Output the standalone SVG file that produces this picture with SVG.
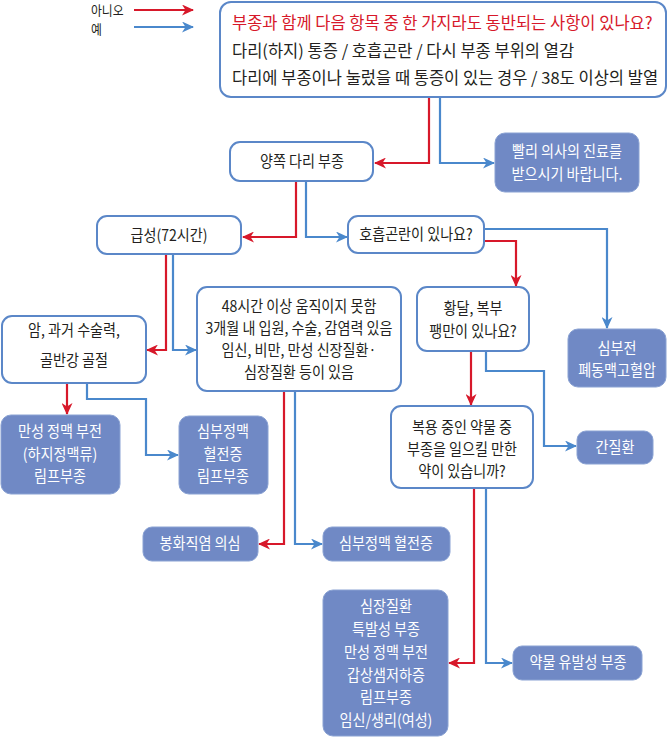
<svg xmlns="http://www.w3.org/2000/svg" width="670" height="738" viewBox="0 0 670 738">
<style>
text{font-family:"Noto Sans CJK KR","Noto Sans",sans-serif;font-size:15.5px;fill:#231f20;text-anchor:middle;transform-box:fill-box;transform-origin:50% 50%;transform:scaleX(0.91)}
text.l{text-anchor:start;font-size:16.5px;transform:none}
text.w{fill:#ffffff}
text.r{fill:#d7182a}
text.lg{font-size:13px;text-anchor:start;transform-origin:0 50%}
.q{fill:#ffffff;stroke:#5b87c8;stroke-width:2}
.a{fill:#7089c5;stroke:#8aa2d3;stroke-width:1}
.cr{fill:none;stroke:#d7182a;stroke-width:2.2;marker-end:url(#mr)}
.cb{fill:none;stroke:#4a88cc;stroke-width:2.2;marker-end:url(#mb)}
</style>
<defs>
<marker id="mr" viewBox="0 0 12 11" refX="11" refY="5.5" markerWidth="12" markerHeight="11" markerUnits="userSpaceOnUse" orient="auto"><path d="M0,0 L12,5.5 L0,11 L3.5,5.5 Z" fill="#d7182a"/></marker>
<marker id="mb" viewBox="0 0 12 11" refX="11" refY="5.5" markerWidth="12" markerHeight="11" markerUnits="userSpaceOnUse" orient="auto"><path d="M0,0 L12,5.5 L0,11 L3.5,5.5 Z" fill="#4a88cc"/></marker>
</defs>

<g id="legend">
<text class="lg" x="91" y="15">아니오</text>
<text class="lg" x="91" y="34">예</text>
<path class="cr" d="M134,10 H193"/>
<path class="cb" d="M134,27 H193"/>
</g>

<g id="connectors">
<path class="cr" d="M429,97 V163 H375"/>
<path class="cb" d="M440,97 V163 H494"/>
<path class="cr" d="M296,181 V237 H243"/>
<path class="cb" d="M306,181 V237 H347"/>
<path class="cb" d="M484,229 H607 V328"/>
<path class="cr" d="M484,241 H516 V286"/>
<path class="cr" d="M471,351 V405"/>
<path class="cb" d="M486,351 V371 H544 V446 H576"/>
<path class="cr" d="M474,488 V663 H449"/>
<path class="cb" d="M486,488 V663 H512"/>
<path class="cr" d="M166,254 V350 H147"/>
<path class="cb" d="M173,254 V350 H196"/>
<path class="cr" d="M284,391 V544 H259"/>
<path class="cb" d="M295,391 V544 H322"/>
<path class="cr" d="M67,383 V414"/>
<path class="cb" d="M87,383 V399 H146 V455 H178"/>
</g>

<g id="n-top">
<rect class="q" x="220" y="2" width="446" height="95" rx="11"/>
<text class="l r" x="232" y="29">부종과 함께 다음 항목 중 한 가지라도 동반되는 사항이 있나요?</text>
<text class="l" x="232" y="57">다리(하지) 통증 / 호흡곤란 / 다시 부종 부위의 열감</text>
<text class="l" x="232" y="84">다리에 부종이나 눌렀을 때 통증이 있는 경우 / 38도 이상의 발열</text>
</g>

<g id="n-both">
<rect class="q" x="230" y="142" width="143" height="39" rx="10"/>
<text x="302" y="167">양쪽 다리 부종</text>
</g>

<g id="n-doctor">
<rect class="a" x="495" y="133" width="144" height="59" rx="10"/>
<text class="w" x="567" y="157">빨리 의사의 진료를</text>
<text class="w" x="567" y="180">받으시기 바랍니다.</text>
</g>

<g id="n-acute">
<rect class="q" x="97" y="216" width="144" height="38" rx="10"/>
<text x="169" y="241">급성(72시간)</text>
</g>

<g id="n-dyspnea">
<rect class="q" x="348" y="216" width="136" height="37" rx="10"/>
<text x="416" y="240">호흡곤란이 있나요?</text>
</g>

<g id="n-heart">
<rect class="a" x="568" y="329" width="98" height="58" rx="10"/>
<text class="w" x="617" y="354">심부전</text>
<text class="w" x="617" y="376">폐동맥고혈압</text>
</g>

<g id="n-jaundice">
<rect class="q" x="417" y="287" width="112" height="64" rx="10"/>
<text x="473" y="314">황달, 복부</text>
<text x="473" y="337">팽만이 있나요?</text>
</g>

<g id="n-drug-q">
<rect class="q" x="391" y="406" width="142" height="82" rx="10"/>
<text x="462" y="433">복용 중인 약물 중</text>
<text x="462" y="455">부종을 일으킬 만한</text>
<text x="462" y="477">약이 있습니까?</text>
</g>

<g id="n-liver">
<rect class="a" x="577" y="431" width="76" height="33" rx="9"/>
<text class="w" x="615" y="453">간질환</text>
</g>

<g id="n-causes">
<rect class="a" x="323" y="590" width="125" height="146" rx="10"/>
<text class="w" x="386" y="612">심장질환</text>
<text class="w" x="386" y="635">특발성 부종</text>
<text class="w" x="386" y="658">만성 정맥 부전</text>
<text class="w" x="386" y="681">갑상샘저하증</text>
<text class="w" x="386" y="703">림프부종</text>
<text class="w" x="386" y="726">임신/생리(여성)</text>
</g>

<g id="n-drug">
<rect class="a" x="513" y="646" width="129" height="34" rx="9"/>
<text class="w" x="578" y="668">약물 유발성 부종</text>
</g>

<g id="n-cancer">
<rect class="q" x="2" y="316" width="144" height="67" rx="10"/>
<text x="74" y="336">암, 과거 수술력,</text>
<text x="74" y="366">골반강 골절</text>
</g>

<g id="n-48h">
<rect class="q" x="197" y="287" width="204" height="104" rx="10"/>
<text x="299" y="312">48시간 이상 움직이지 못함</text>
<text x="299" y="334">3개월 내 입원, 수술, 감염력 있음</text>
<text x="299" y="356">임신, 비만, 만성 신장질환·</text>
<text x="299" y="378">심장질환 등이 있음</text>
</g>

<g id="n-chronic">
<rect class="a" x="1" y="415" width="119" height="79" rx="10"/>
<text class="w" x="60" y="437">만성 정맥 부전</text>
<text class="w" x="60" y="460">(하지정맥류)</text>
<text class="w" x="60" y="482">림프부종</text>
</g>

<g id="n-dvt3">
<rect class="a" x="179" y="416" width="89" height="78" rx="10"/>
<text class="w" x="223" y="437">심부정맥</text>
<text class="w" x="223" y="460">혈전증</text>
<text class="w" x="223" y="482">림프부종</text>
</g>

<g id="n-cellulitis">
<rect class="a" x="143" y="527" width="115" height="34" rx="9"/>
<text class="w" x="200" y="549">봉화직염 의심</text>
</g>

<g id="n-dvt">
<rect class="a" x="323" y="527" width="127" height="34" rx="9"/>
<text class="w" x="386" y="549">심부정맥 혈전증</text>
</g>
</svg>
